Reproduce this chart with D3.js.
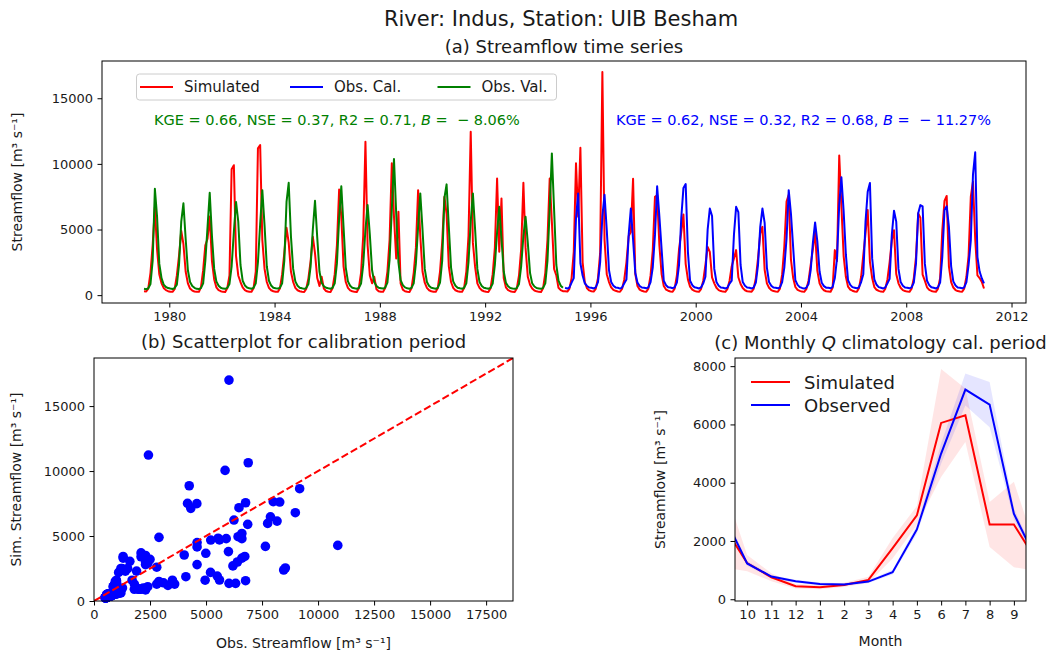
<!DOCTYPE html>
<html>
<head>
<meta charset="utf-8">
<script src="https://cdn.jsdelivr.net/npm/d3@7"></script>
<style>
body { margin: 0; background: #fff; }
svg text { font-family: "DejaVu Sans", sans-serif; fill: #1a1a1a; white-space: pre; }
</style>
</head>
<body>
<svg id="fig" width="1054" height="654"></svg>
<script>
"use strict";
// monthly streamflow, one row per year (Jan..Dec)
var valYears = [1979, 1980, 1981, 1982, 1983, 1984, 1985, 1986, 1987, 1988, 1989, 1990, 1991, 1992, 1993, 1994];
var calYears = [1995, 1996, 1997, 1998, 1999, 2000, 2001, 2002, 2003, 2004, 2005, 2006, 2007, 2008, 2009, 2010];

var obsVal = [
  [480, 450, 520, 850, 2600, 8100, 6000, 2400, 1300, 800, 620, 540],
  [500, 470, 540, 800, 2300, 5600, 7000, 4300, 1900, 1000, 700, 560],
  [480, 460, 530, 900, 2600, 5200, 7800, 4500, 2000, 1050, 720, 560],
  [500, 480, 550, 850, 2200, 4800, 7100, 5600, 2300, 1100, 740, 580],
  [520, 490, 560, 900, 2500, 5400, 8000, 5300, 2200, 1100, 730, 570],
  [530, 500, 560, 900, 2600, 7100, 8560, 4500, 2000, 1050, 720, 570],
  [520, 480, 540, 850, 2200, 5000, 7190, 4400, 1800, 950, 680, 560],
  [520, 490, 560, 900, 2400, 5800, 8300, 5200, 2100, 1050, 720, 570],
  [520, 490, 550, 880, 2300, 5000, 6860, 4600, 1900, 1000, 700, 560],
  [530, 500, 580, 950, 2700, 6500, 10370, 6200, 2500, 1150, 760, 590],
  [520, 490, 550, 900, 2400, 5200, 7750, 5000, 2000, 1000, 700, 560],
  [520, 490, 560, 950, 2600, 7400, 8440, 5200, 2100, 1050, 720, 570],
  [520, 490, 560, 900, 2500, 5600, 7750, 5000, 2000, 1000, 700, 560],
  [520, 490, 550, 880, 2300, 4800, 6730, 4300, 1800, 950, 680, 550],
  [510, 480, 540, 850, 2200, 4500, 5970, 4000, 1700, 900, 660, 540],
  [510, 480, 550, 900, 2600, 6500, 10800, 6500, 2300, 1100, 720, 560]
];
var simVal = [
  [300, 280, 500, 1700, 3800, 6700, 3500, 1600, 900, 550, 380, 300],
  [260, 250, 450, 1500, 3000, 4900, 3900, 1800, 900, 500, 350, 280],
  [260, 250, 600, 1900, 3800, 4300, 6000, 2600, 1200, 600, 380, 300],
  [250, 240, 520, 1500, 9600, 9900, 3000, 1500, 1000, 600, 380, 290],
  [260, 250, 520, 1800, 11180, 11430, 4200, 2000, 1000, 560, 370, 300],
  [260, 250, 500, 1600, 3200, 5130, 4000, 1800, 1000, 550, 370, 300],
  [260, 240, 480, 1300, 2600, 4440, 3200, 1300, 700, 1400, 500, 320],
  [260, 240, 520, 1600, 3800, 8050, 6000, 2200, 1000, 550, 360, 290],
  [250, 240, 520, 1700, 4500, 11680, 3800, 1500, 900, 1400, 450, 300],
  [260, 250, 550, 1800, 4200, 10040, 6000, 2800, 6350, 900, 420, 300],
  [260, 240, 520, 1700, 3600, 8000, 4500, 1800, 950, 550, 370, 300],
  [260, 250, 540, 1800, 4000, 7500, 6200, 2200, 1000, 560, 370, 300],
  [260, 250, 540, 1800, 4500, 12450, 4000, 2150, 900, 550, 370, 300],
  [260, 240, 500, 1600, 3600, 8890, 3300, 7370, 1300, 600, 380, 300],
  [250, 240, 500, 1500, 3500, 8560, 3600, 1400, 800, 500, 350, 290],
  [250, 240, 520, 1700, 4200, 8890, 5600, 2000, 1500, 560, 380, 300]
];
var obsCal = [
  [560, 500, 580, 950, 1300, 5850, 7750, 2430, 1500, 900, 700, 580],
  [560, 510, 600, 1000, 2500, 6024, 7650, 4960, 1900, 1000, 720, 590],
  [560, 500, 580, 900, 1200, 4600, 6600, 4250, 1700, 950, 700, 580],
  [570, 520, 600, 1000, 2100, 4590, 8290, 6000, 3500, 1100, 760, 600],
  [580, 530, 600, 950, 2300, 5900, 8170, 8466, 3300, 1100, 760, 600],
  [560, 510, 580, 900, 1400, 4990, 6600, 6025, 2000, 1000, 720, 580],
  [560, 510, 570, 880, 1100, 4600, 6730, 6320, 2300, 1000, 710, 580],
  [560, 510, 580, 950, 2300, 5210, 6600, 5500, 2100, 1000, 720, 580],
  [570, 520, 600, 1000, 2100, 4320, 8000, 6200, 3600, 1150, 780, 610],
  [550, 500, 560, 850, 1900, 4026, 5540, 4100, 1800, 950, 690, 570],
  [570, 520, 620, 1300, 2800, 6883, 8985, 6400, 3100, 1150, 780, 610],
  [570, 520, 600, 1000, 1600, 5600, 7875, 8540, 2800, 1200, 790, 610],
  [560, 510, 580, 900, 1250, 4600, 6430, 5600, 2000, 1000, 720, 580],
  [570, 520, 600, 950, 2400, 6246, 6860, 6765, 2400, 1100, 760, 600],
  [560, 510, 590, 950, 2900, 6470, 6765, 5200, 2200, 1050, 740, 590],
  [570, 520, 600, 1000, 2300, 4174, 9178, 10880, 2900, 1800, 1270, 900]
];
var simCal = [
  [300, 270, 480, 1300, 3300, 10050, 5970, 11230, 2500, 1000, 520, 360],
  [300, 270, 480, 1300, 3200, 17000, 4200, 1600, 1000, 600, 400, 330],
  [280, 260, 470, 1200, 2500, 4500, 4800, 8870, 1600, 700, 420, 330],
  [280, 260, 500, 1500, 3400, 7490, 7615, 3800, 1600, 700, 430, 340],
  [280, 260, 500, 1500, 3500, 4800, 6150, 2385, 1200, 650, 420, 330],
  [270, 250, 460, 1100, 2300, 3670, 3300, 1360, 900, 560, 380, 310],
  [270, 250, 450, 1100, 2200, 2800, 3430, 1360, 850, 540, 370, 300],
  [280, 260, 480, 1300, 2800, 4690, 5200, 1920, 900, 560, 380, 310],
  [280, 260, 500, 1600, 3700, 7130, 7640, 2700, 1300, 620, 400, 330],
  [270, 250, 450, 1100, 2300, 3540, 4830, 1870, 900, 560, 370, 300],
  [280, 260, 560, 3430, 2600, 10640, 6795, 3000, 1400, 650, 420, 340],
  [280, 260, 520, 1400, 3050, 4700, 6480, 2540, 1300, 620, 410, 330],
  [270, 250, 470, 1200, 2500, 4160, 4950, 1615, 900, 560, 380, 310],
  [270, 250, 490, 1300, 2900, 6230, 5900, 1564, 1100, 600, 400, 320],
  [270, 250, 480, 1300, 4900, 7180, 7560, 2200, 1000, 580, 390, 310],
  [280, 260, 500, 1400, 3000, 7510, 8640, 4280, 1500, 1300, 1000, 510]
];

var valScores = [0.66, 0.37, 0.71, -8.06];
var calScores = [0.62, 0.32, 0.68, -11.27];

// monthly climatology of the calibration period, hydrological year Oct..Sep
var climLabels = ["10", "11", "12", "1", "2", "3", "4", "5", "6", "7", "8", "9"];
var simClim = [1240, 756, 447, 413, 493, 665, 1753, 2877, 6052, 6315, 2567, 2567];
var simLo   = [960, 620, 370, 340, 420, 560, 1400, 2550, 4200, 5400, 1790, 1100];
var simHi   = [1520, 890, 520, 490, 570, 770, 2100, 3200, 7900, 7230, 3340, 4030];
var obsClim = [1230, 780, 620, 527, 504, 607, 928, 2395, 5000, 7198, 6682, 2934];
var obsLo   = [1150, 730, 570, 480, 460, 560, 850, 2250, 4650, 6650, 5900, 2750];
var obsHi   = [1310, 830, 670, 575, 550, 655, 1010, 2540, 5350, 7750, 7460, 3120];

var RED = "#ff0000", BLUE = "#0000ff", GREEN = "#008000";
var TICK = 4.5;
var fig = d3.select("#fig");

function monthly(yrs, rows) {
  var out = [];
  yrs.forEach(function (yr, i) {
    rows[i].forEach(function (v, m) { out.push({ date: new Date(yr, m, 15), q: v }); });
  });
  return out;
}
var simAll = monthly(valYears, simVal).concat(monthly(calYears, simCal));
var obsV = monthly(valYears, obsVal);
var obsC = monthly(calYears, obsCal);

function frame(box) {
  fig.append("rect")
    .attr("x", box.l).attr("y", box.t)
    .attr("width", box.r - box.l).attr("height", box.b - box.t)
    .attr("fill", "none").attr("stroke", "#000").attr("stroke-width", 1);
}
function styleAxis(g) {
  g.attr("font-family", null).attr("font-size", null);
  g.select(".domain").remove();
  g.selectAll(".tick line").attr("stroke", "#000");
  g.selectAll(".tick text").style("font-size", "13px");
}
function label(txt, x, y, size, rot, anchor) {
  var t = fig.append("text").attr("x", x).attr("y", y)
    .attr("text-anchor", anchor || "middle")
    .style("font-size", size + "px").text(txt);
  if (rot) t.attr("transform", "rotate(-90," + x + "," + y + ")");
  return t;
}
function clip(id, box) {
  fig.append("clipPath").attr("id", id).append("rect")
    .attr("x", box.l).attr("y", box.t).attr("width", box.r - box.l).attr("height", box.b - box.t);
}

// ---------- titles
label("River: Indus, Station: UIB Besham", 561, 26, 21);
label("(a) Streamflow time series", 564, 53, 18);

// ---------- (a) time series
var A = { l: 102, r: 1026, t: 61, b: 303 };
var tExt = d3.extent(simAll, function (d) { return d.date; });
var tPad = (tExt[1] - tExt[0]) * 0.05;
var x = d3.scaleTime()
  .domain([new Date(+tExt[0] - tPad), new Date(+tExt[1] + tPad)])
  .range([A.l, A.r]);
var allQ = simAll.concat(obsV, obsC).map(function (d) { return d.q; });
var qMin = d3.min(allQ), qMax = d3.max(allQ), qPad = (qMax - qMin) * 0.05;
var y = d3.scaleLinear().domain([qMin - qPad, qMax + qPad]).range([A.b, A.t]);

clip("clipA", A);
var line = d3.line().x(function (d) { return x(d.date); }).y(function (d) { return y(d.q); });
var gA = fig.append("g").attr("clip-path", "url(#clipA)");
[[simAll, RED], [obsC, BLUE], [obsV, GREEN]].forEach(function (s) {
  gA.append("path").datum(s[0]).attr("d", line)
    .attr("fill", "none").attr("stroke", s[1]).attr("stroke-width", 2)
    .attr("stroke-linejoin", "round");
});

fig.append("g").attr("transform", "translate(0," + A.b + ")")
  .call(d3.axisBottom(x).ticks(d3.timeYear.every(4)).tickFormat(d3.timeFormat("%Y"))
    .tickSize(TICK).tickPadding(TICK))
  .call(styleAxis);
fig.append("g").attr("transform", "translate(" + A.l + ",0)")
  .call(d3.axisLeft(y).tickValues([0, 5000, 10000, 15000]).tickFormat(d3.format("d"))
    .tickSize(TICK).tickPadding(TICK))
  .call(styleAxis);
frame(A);
label("Streamflow [m\u00b3 s\u207b\u00b9]", 22, (A.t + A.b) / 2, 14, true);

// legend (a)
fig.append("rect").attr("x", 136.5).attr("y", 74).attr("width", 420).attr("height", 26)
  .attr("rx", 3).attr("fill", "#fff").attr("fill-opacity", 0.8)
  .attr("stroke", "#cccccc").attr("stroke-width", 1);
[["Simulated", RED, 140], ["Obs. Cal.", BLUE, 290], ["Obs. Val.", GREEN, 437.5]].forEach(function (e) {
  fig.append("line").attr("x1", e[2]).attr("x2", e[2] + 33).attr("y1", 87).attr("y2", 87)
    .attr("stroke", e[1]).attr("stroke-width", 2);
  label(e[0], e[2] + 44, 92, 15, false, "start");
});

function scoreText(xpos, s, color) {
  var t = fig.append("text").attr("x", xpos).attr("y", 125)
    .style("font-size", "14.5px").style("fill", color);
  t.append("tspan").text("KGE = " + s[0].toFixed(2) + ", NSE = " + s[1].toFixed(2) +
    ", R2 = " + s[2].toFixed(2) + ", ");
  t.append("tspan").style("font-style", "italic").text("B");
  t.append("tspan").text(" =  \u2212 " + Math.abs(s[3]).toFixed(2) + "%");
}
scoreText(154, valScores, GREEN);
scoreText(616, calScores, BLUE);

// ---------- (b) scatter, calibration period
var B = { l: 94, r: 513, t: 358, b: 601 };
var pairs = obsC.map(function (d, i) { return { o: d.q, s: simAll[obsV.length + i].q }; });
var lim = 1.1 * d3.max(pairs, function (p) { return Math.max(p.o, p.s); });
var xs = d3.scaleLinear().domain([0, lim]).range([B.l, B.r]);
var ys = d3.scaleLinear().domain([0, lim]).range([B.b, B.t]);
clip("clipB", B);

fig.append("g").selectAll("circle").data(pairs).join("circle")
  .attr("cx", function (p) { return xs(p.o); })
  .attr("cy", function (p) { return ys(p.s); })
  .attr("r", 4.8).attr("fill", BLUE);
fig.append("g").attr("clip-path", "url(#clipB)").append("line")
  .attr("x1", xs(0)).attr("y1", ys(0)).attr("x2", xs(lim)).attr("y2", ys(lim))
  .attr("stroke", RED).attr("stroke-width", 2).attr("stroke-dasharray", "7.4,3.2");

fig.append("g").attr("transform", "translate(0," + B.b + ")")
  .call(d3.axisBottom(xs).tickValues([0, 2500, 5000, 7500, 10000, 12500, 15000, 17500])
    .tickFormat(d3.format("d")).tickSize(TICK).tickPadding(TICK))
  .call(styleAxis);
fig.append("g").attr("transform", "translate(" + B.l + ",0)")
  .call(d3.axisLeft(ys).tickValues([0, 5000, 10000, 15000]).tickFormat(d3.format("d"))
    .tickSize(TICK).tickPadding(TICK))
  .call(styleAxis);
frame(B);
label("(b) Scatterplot for calibration period", (B.l + B.r) / 2, 348, 18);
label("Obs. Streamflow [m\u00b3 s\u207b\u00b9]", (B.l + B.r) / 2, 648, 14);
label("Sim. Streamflow [m\u00b3 s\u207b\u00b9]", 21, (B.t + B.b) / 2, 14, true);

// ---------- (c) monthly climatology
var C = { l: 735, r: 1026, t: 358, b: 601 };
var xc = d3.scaleLinear().domain([0.5, 12.5]).range([C.l, C.r]);
var yc = d3.scaleLinear().domain([-60, 8280]).range([C.b, C.t]);
clip("clipC", C);

// wrap the hydrological year: previous Sep at 0, next Oct at 13
function wrap(arr) {
  var n = arr.length;
  return [arr[n - 1]].concat(arr, [arr[0]]).map(function (v, i) { return { m: i, v: v }; });
}
function wrapBand(lo, hi) {
  var l = wrap(lo), h = wrap(hi);
  return l.map(function (d, i) { return { m: d.m, lo: d.v, hi: h[i].v }; });
}
var gC = fig.append("g").attr("clip-path", "url(#clipC)");
var area = d3.area().x(function (d) { return xc(d.m); })
  .y0(function (d) { return yc(d.lo); }).y1(function (d) { return yc(d.hi); });
var cline = d3.line().x(function (d) { return xc(d.m); }).y(function (d) { return yc(d.v); });
gC.append("path").datum(wrapBand(simLo, simHi)).attr("d", area)
  .attr("fill", RED).attr("fill-opacity", 0.1);
gC.append("path").datum(wrapBand(obsLo, obsHi)).attr("d", area)
  .attr("fill", BLUE).attr("fill-opacity", 0.1);
gC.append("path").datum(wrap(simClim)).attr("d", cline)
  .attr("fill", "none").attr("stroke", RED).attr("stroke-width", 2);
gC.append("path").datum(wrap(obsClim)).attr("d", cline)
  .attr("fill", "none").attr("stroke", BLUE).attr("stroke-width", 2);

fig.append("g").attr("transform", "translate(0," + C.b + ")")
  .call(d3.axisBottom(xc).tickValues(d3.range(1, 13))
    .tickFormat(function (d) { return climLabels[d - 1]; }).tickSize(TICK).tickPadding(TICK))
  .call(styleAxis);
fig.append("g").attr("transform", "translate(" + C.l + ",0)")
  .call(d3.axisLeft(yc).tickValues([0, 2000, 4000, 6000, 8000]).tickFormat(d3.format("d"))
    .tickSize(TICK).tickPadding(TICK))
  .call(styleAxis);
frame(C);

var ct = fig.append("text").attr("x", (C.l + C.r) / 2).attr("y", 349)
  .attr("text-anchor", "middle").style("font-size", "18px");
ct.append("tspan").text("(c) Monthly ");
ct.append("tspan").style("font-style", "italic").text("Q");
ct.append("tspan").text(" climatology cal. period");
label("Month", (C.l + C.r) / 2, 646, 14);
label("Streamflow [m\u00b3 s\u207b\u00b9]", 665, (C.t + C.b) / 2, 14, true);

[["Simulated", RED, 382], ["Observed", BLUE, 405]].forEach(function (e) {
  fig.append("line").attr("x1", 751).attr("x2", 790).attr("y1", e[2]).attr("y2", e[2])
    .attr("stroke", e[1]).attr("stroke-width", 2);
  label(e[0], 804, e[2] + 6.5, 18, false, "start");
});
</script>
</body>
</html>
